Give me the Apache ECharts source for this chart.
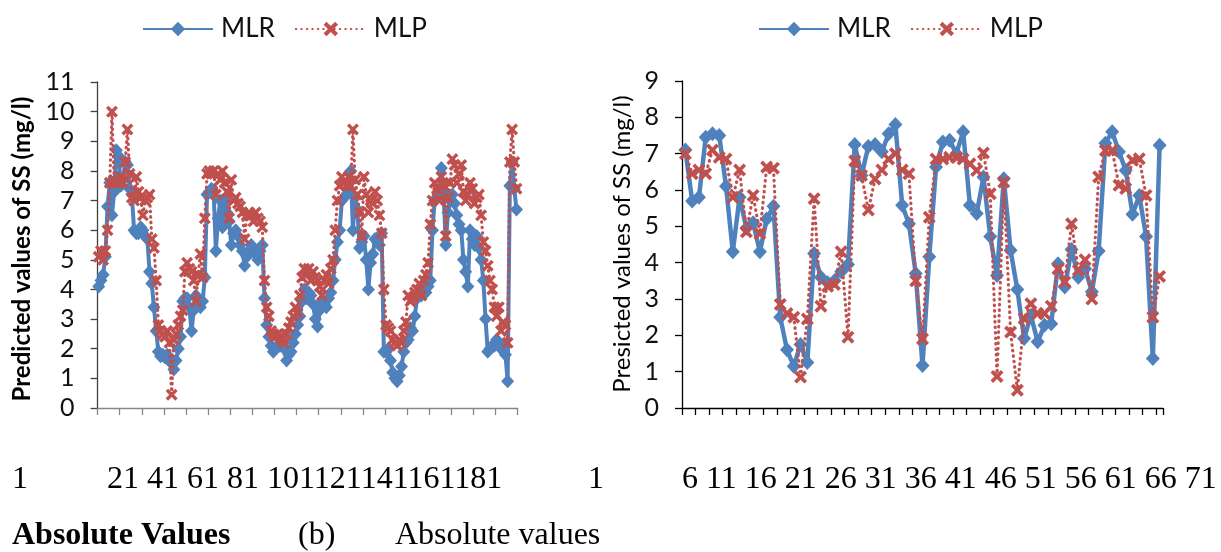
<!DOCTYPE html>
<html>
<head>
<meta charset="utf-8">
<script src="https://cdn.jsdelivr.net/npm/echarts@6/dist/echarts.min.js"></script>
<style>
  html, body { margin: 0; padding: 0; background: #fff; }
  #chart { width: 1221px; height: 552px; }
</style>
</head>
<body>
<div id="chart"></div>
<script>
// Panel (a): predicted suspended solids, 190 samples
const leftMLR = [
  4.1, 4.3, 4.5, 5.1, 6.8, 7.6, 6.5, 7.3, 8.7, 8.5,
  7.5, 7.7, 8.3, 8.2, 7.4, 7.2, 6.0, 5.9, 5.9, 6.1,
  6.0, 5.8, 5.7, 4.6, 4.2, 3.4, 2.6, 1.9, 1.75, 1.8,
  1.7, 1.8, 1.6, 1.5, 1.3, 1.6, 2.0, 2.4, 3.6, 3.7,
  3.7, 3.4, 2.6, 3.3, 3.8, 3.6, 3.4, 3.6, 4.4, 7.2,
  7.3, 7.4, 7.3, 5.3, 6.4, 7.0, 6.1, 7.0, 6.6, 6.3,
  5.5, 5.9, 6.0, 5.8, 5.5, 5.3, 4.8, 5.1, 5.3, 5.5,
  5.4, 5.2, 5.0, 5.3, 5.5, 3.7, 2.8, 2.4, 2.1, 1.9,
  2.0, 2.1, 2.1, 2.2, 2.0, 1.6, 1.8, 1.9, 2.2, 2.5,
  2.8, 3.1, 3.6, 4.0, 3.7, 3.9, 3.8, 3.5, 3.0, 2.75,
  3.3, 3.6, 3.5, 3.4, 3.7, 3.9, 4.3, 5.0, 5.6, 6.0,
  7.0, 7.1, 7.2, 7.6, 8.0, 6.0, 7.1, 6.7, 5.4, 5.6,
  5.8, 5.0, 4.0, 4.9, 5.2, 5.7, 5.6, 5.5, 5.9, 1.9,
  1.9, 2.0, 1.6, 1.2, 1.0, 0.9, 1.1, 1.4, 1.9, 2.2,
  2.3, 2.7, 2.6, 3.1, 3.7, 3.9, 3.8, 4.0, 3.9, 4.1,
  4.3, 6.0, 7.0, 7.1, 7.2, 8.1, 7.3, 5.5, 6.6, 7.0,
  7.2, 6.9, 6.5, 6.2, 6.0, 5.0, 4.6, 4.1, 6.0, 5.7,
  5.5, 5.8, 5.4, 5.0, 4.3, 3.0, 1.9, 2.0, 2.1, 2.1,
  2.3, 2.2, 2.0, 2.1, 1.8, 0.9, 7.5, 8.3, 7.4, 6.7
];
const leftMLP = [
  5.1, 5.3, 5.0, 5.3, 6.0, 7.6, 10.0, 7.7, 7.6, 7.6,
  7.8, 7.6, 8.3, 9.4, 7.9, 7.1, 7.0, 7.8, 7.3, 7.1,
  6.5, 7.0, 7.1, 7.2, 5.7, 5.4, 4.3, 2.8, 2.6, 2.5,
  2.4, 2.6, 2.2, 0.45, 2.3, 2.5, 2.8, 3.1, 3.3, 4.6,
  4.9, 4.7, 4.6, 4.3, 3.6, 4.5, 5.2, 4.4, 6.4, 7.9,
  8.0, 7.9, 8.0, 7.2, 7.9, 7.7, 8.0, 7.6, 7.3, 6.4,
  7.7, 7.0, 7.1, 6.9, 6.8, 6.6, 5.7, 6.5, 6.6, 6.5,
  6.3, 6.6, 6.4, 6.3, 6.1, 4.3, 3.4, 3.1, 2.6, 2.5,
  2.4, 2.5, 2.4, 2.3, 2.2, 2.5, 2.7, 2.9, 3.1, 3.4,
  3.2, 3.8, 4.4, 4.7, 4.5, 4.7, 4.3, 4.6, 4.4, 4.3,
  4.1, 3.8, 4.3, 4.5, 4.2, 4.7, 5.0, 6.0, 7.0, 7.5,
  7.8, 7.6, 7.5, 7.8, 7.5, 9.4, 7.7, 7.2, 6.6, 5.8,
  7.8, 7.2, 6.6, 7.0, 6.9, 7.3, 7.0, 6.5, 5.9, 4.0,
  2.8, 2.7, 2.6, 2.3, 2.2, 2.1, 2.3, 2.2, 2.6, 2.9,
  3.8, 3.6, 3.7, 3.9, 4.0, 4.2, 3.8, 4.3, 4.5, 4.9,
  6.2, 7.0, 7.6, 7.4, 7.0, 7.8, 7.5, 5.8, 7.1, 7.6,
  8.4, 8.2, 7.6, 7.9, 8.2, 7.3, 7.0, 7.2, 7.6, 7.4,
  6.9, 7.1, 7.2, 6.5, 5.6, 5.3, 4.8, 4.3, 4.0, 3.4,
  3.1, 3.4, 2.6, 2.9, 2.8, 2.2, 8.3, 9.4, 8.3, 7.4
];

// Panel (b): 71 samples
const rightMLR = [
  7.1, 5.7, 5.8, 7.45, 7.55, 7.5, 6.1, 4.3, 5.8, 4.95,
  5.1, 4.3, 5.2, 5.55, 2.5, 1.6, 1.15, 1.75, 1.25, 4.25,
  3.6, 3.45, 3.5, 3.75, 3.95, 7.25, 6.4, 7.2, 7.25, 7.05,
  7.55, 7.8, 5.58, 5.07, 3.7, 1.17, 4.16, 6.63, 7.32, 7.37,
  7.0, 7.6, 5.58, 5.35, 6.36, 4.72, 3.65, 6.31, 4.34, 3.26,
  1.91, 2.55, 1.82, 2.28, 2.32, 3.97, 3.33, 4.36, 3.6, 3.83,
  3.2, 4.32, 7.29, 7.6, 7.05, 6.54, 5.33, 5.85, 4.72, 1.36, 7.23
];
const rightMLP = [
  7.0, 6.45, 6.55, 6.45, 7.1, 6.9, 6.85, 5.8, 6.55, 4.85,
  5.85, 4.8, 6.63, 6.6, 2.85, 2.6, 2.5, 0.85, 2.45, 5.76,
  2.8, 3.35, 3.4, 4.3, 1.95, 6.8, 6.4, 5.45, 6.3, 6.55,
  6.85, 7.0, 6.55, 6.45, 3.5, 1.9, 5.25, 6.85, 6.85, 6.9,
  6.9, 6.85, 6.72, 6.54, 7.02, 5.9, 0.87, 6.22, 2.09, 0.49,
  2.46, 2.87, 2.6, 2.6, 2.8, 3.83, 3.47, 5.07, 3.79, 4.08,
  3.0, 6.36, 7.09, 7.09, 6.13, 6.04, 6.82, 6.86, 5.85, 2.5, 3.62
];

const seriesNames = ['MLR', 'MLP'];
const leftTickLabels = ['1', '21', '41', '61', '81', '101', '121', '141', '161', '181'];
const rightTickLabels = ['1', '6', '11', '16', '21', '26', '31', '36', '41', '46', '51', '56', '61', '66', '71'];
const leftYTitle = 'Predicted values of SS (mg/l)';
const rightYTitle = 'Presicted values of SS (mg/l)';
const captionA = 'Absolute Values';
const captionMark = '(b)';
const captionB = 'Absolute values';

const leftCategories = leftMLR.map((_, i) => String(i + 1));
const rightCategories = rightMLR.map((_, i) => String(i + 1));

const BLUE = '#4F81BD';
const RED = '#C0504D';
// bold "x" marker
const CROSS = 'path://M2,0 L5,3 L8,0 L10,2 L7,5 L10,8 L8,10 L5,7 L2,10 L0,8 L3,5 L0,2 Z';
const SANS = 'Lato, "Open Sans", "Noto Sans", sans-serif';
const SERIF = '"Liberation Serif", "DejaVu Serif", serif';

function mlrSeries(data, idx, size, width) {
  return {
    name: seriesNames[0], type: 'line', xAxisIndex: idx, yAxisIndex: idx, data: data,
    symbol: 'diamond', symbolSize: size, showAllSymbol: true,
    lineStyle: { color: BLUE, width: width },
    itemStyle: { color: BLUE }, z: 2
  };
}
function mlpSeries(data, idx, size) {
  return {
    name: seriesNames[1], type: 'line', xAxisIndex: idx, yAxisIndex: idx, data: data,
    symbol: CROSS, symbolSize: size, showAllSymbol: true,
    lineStyle: { color: RED, width: 3.2, type: [0.5, 5], cap: 'round' },
    itemStyle: { color: RED }, z: 3
  };
}
function catAxis(idx, data, tickInterval, color) {
  return {
    type: 'category', gridIndex: idx, data: data, boundaryGap: true,
    axisLine: { show: true, lineStyle: { color: color, width: 1.3 } },
    axisTick: { show: true, interval: tickInterval, length: 7, lineStyle: { color: color, width: 1.3 } },
    axisLabel: { show: false }, splitLine: { show: false }
  };
}
function valAxis(idx, max, color) {
  return {
    type: 'value', gridIndex: idx, min: 0, max: max, interval: 1,
    axisLine: { show: true, lineStyle: { color: color, width: 1.3 } },
    axisTick: { show: true, length: 7, lineStyle: { color: color, width: 1.3 } },
    axisLabel: { fontFamily: SANS, fontSize: 25, color: '#111', margin: 23 },
    splitLine: { show: false }
  };
}
function legendAt(left) {
  return {
    left: left, top: 11, itemWidth: 70, itemHeight: 18, itemGap: 20,
    data: seriesNames,
    textStyle: { fontFamily: SANS, fontSize: 26, color: '#111', padding: [0, 0, 0, 3] }
  };
}
function text(x, y, str, opts) {
  return {
    type: 'text', x: x, y: y, silent: true, rotation: opts.rotation || 0,
    style: Object.assign({
      text: str, fill: '#000', align: 'left', verticalAlign: 'middle'
    }, opts.style)
  };
}

const chart = echarts.init(document.getElementById('chart'), null, { renderer: 'canvas' });
chart.setOption({
  animation: false,
  backgroundColor: '#fff',
  legend: [legendAt(137), legendAt(753)],
  grid: [
    { left: 97.6, top: 82, width: 420, height: 326 },
    { left: 682, top: 81, width: 481, height: 327 }
  ],
  xAxis: [
    catAxis(0, leftCategories, 9, '#868686'),
    catAxis(1, rightCategories, 1, '#000')
  ],
  yAxis: [
    valAxis(0, 11, '#404040'),
    valAxis(1, 9, '#000')
  ],
  series: [
    mlrSeries(leftMLR, 0, [13, 14], 4),
    mlpSeries(leftMLP, 0, 12),
    mlrSeries(rightMLR, 1, [14, 15], 4.5),
    mlpSeries(rightMLP, 1, 13)
  ],
  graphic: [
    text(22, 249, leftYTitle, { rotation: Math.PI / 2, style: { align: 'center', font: 'bold 24px ' + SANS } }),
    text(622, 244, rightYTitle, { rotation: Math.PI / 2, style: { align: 'center', font: '24px ' + SANS } }),
    text(12, 480, leftTickLabels[0], { style: { font: '32px ' + SERIF } }),
    text(107, 480, leftTickLabels.slice(1, 6).join(' ') + leftTickLabels.slice(6).join(''), { style: { font: '32px ' + SERIF } }),
    text(588, 480, rightTickLabels[0], { style: { font: '32px ' + SERIF } }),
    text(682, 480, rightTickLabels.slice(1).join(' '), { style: { font: '32px ' + SERIF } }),
    text(12, 536, captionA, { style: { font: 'bold 32px ' + SERIF } }),
    text(298, 536, captionMark, { style: { font: '32px ' + SERIF } }),
    text(395, 536, captionB, { style: { font: '32px ' + SERIF } })
  ]
});
</script>
</body>
</html>
